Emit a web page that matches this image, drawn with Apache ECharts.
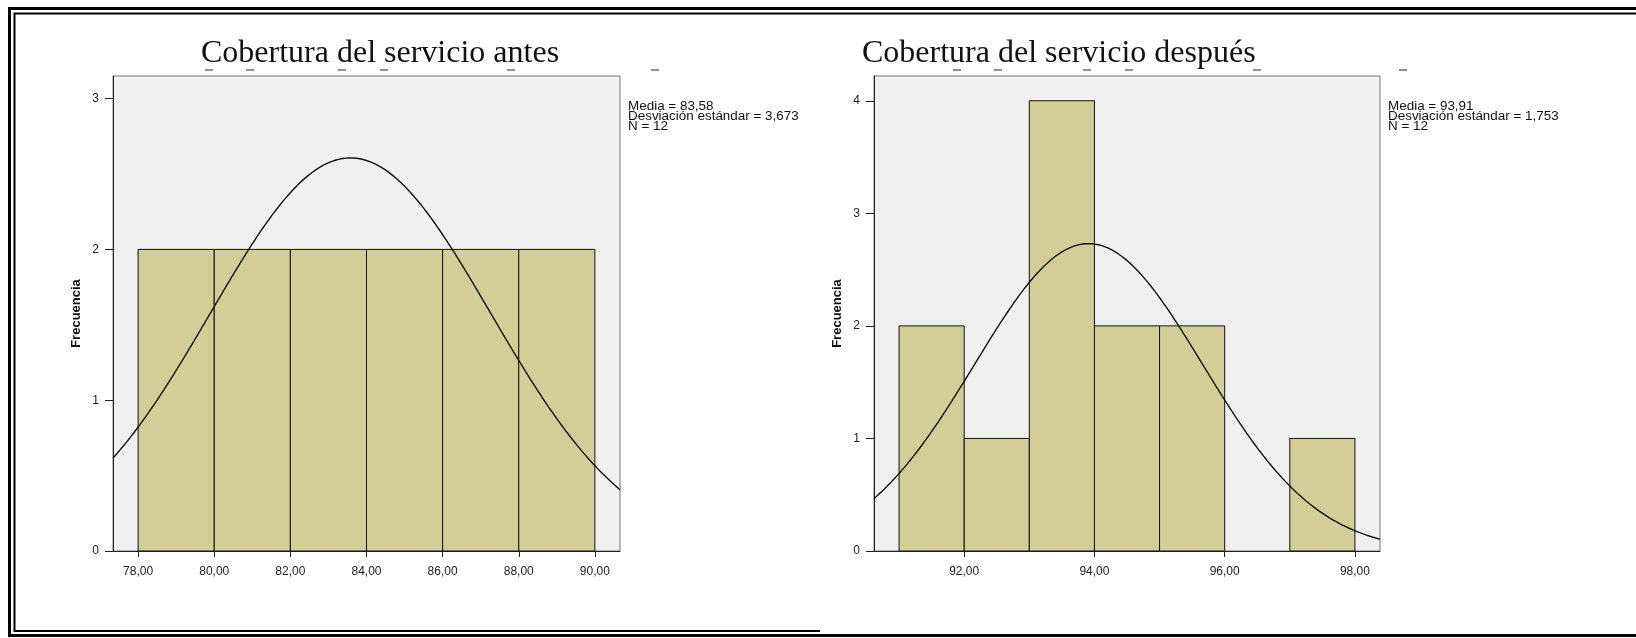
<!DOCTYPE html>
<html>
<head>
<meta charset="utf-8">
<script src="https://cdn.jsdelivr.net/npm/echarts@6/dist/echarts.min.js"></script>
<style>
  html, body { margin: 0; padding: 0; background: #ffffff; }
  #chart { width: 1636px; height: 638px; }
</style>
</head>
<body>
<div id="chart"></div>
<script>
// Histogram bins (edges) and frequencies, before and after
const antesEdges = [78, 80, 82, 84, 86, 88, 90];
const antesCounts = [2, 2, 2, 2, 2, 2];
const despuesEdges = [91, 92, 93, 94, 95, 96, 97, 98];
const despuesCounts = [2, 1, 4, 2, 2, 0, 1];

// Summary statistics shown beside each histogram
const antesStats = { media: 83.58, sd: 3.673, n: 12 };
const despuesStats = { media: 93.91, sd: 1.753, n: 12 };

// Tick labels
const antesXTicks = [78, 80, 82, 84, 86, 88, 90];
const antesYTicks = [0, 1, 2, 3];
const despuesXTicks = [92, 94, 96, 98];
const despuesYTicks = [0, 1, 2, 3, 4];

const titles = ['Cobertura del servicio antes', 'Cobertura del servicio después'];

const fmt = (v, d) => v.toFixed(d).replace('.', ',');

function binRows(edges, counts) {
  return counts.map((c, i) => [edges[i], edges[i + 1], c]);
}

// Normal curve scaled to the histogram: N * binWidth * pdf(x)
function normalCurve(stats, binWidth, xmin, xmax) {
  const pts = [];
  const step = (xmax - xmin) / 300;
  for (let i = 0; i <= 300; i++) {
    const x = xmin + i * step;
    const z = (x - stats.media) / stats.sd;
    const y = stats.n * binWidth * Math.exp(-0.5 * z * z) / (stats.sd * Math.sqrt(2 * Math.PI));
    pts.push([x, y]);
  }
  return pts;
}

const barFill = '#d3ce97';
const labelFont = { fontFamily: 'Liberation Sans, Arial, sans-serif', fontSize: 12, color: '#222' };

function histRender(params, api) {
  const c = api.value(2);
  if (!c) return null;
  const p0 = api.coord([api.value(0), c]);
  const p1 = api.coord([api.value(1), 0]);
  return {
    type: 'rect',
    shape: { x: p0[0], y: p0[1], width: p1[0] - p0[0], height: p1[1] - p0[1] },
    style: { fill: barFill, stroke: '#111', lineWidth: 1 }
  };
}

const ranges = [
  { xmin: 77.34, xmax: 90.66, ymax: 3.15 },
  { xmin: 90.615, xmax: 98.385, ymax: 4.22 }
];

function xAxisFor(idx, ticks) {
  return {
    type: 'value', gridIndex: idx, min: ranges[idx].xmin, max: ranges[idx].xmax,
    splitLine: { show: false },
    axisLine: { show: true, onZero: false, lineStyle: { color: '#222', width: 1 } },
    axisTick: { show: true, customValues: ticks, length: 6, lineStyle: { color: '#222' } },
    axisLabel: Object.assign({ customValues: ticks, margin: 15, formatter: v => fmt(v, 2) }, labelFont)
  };
}
function yAxisFor(idx, ticks) {
  return {
    type: 'value', gridIndex: idx, min: 0, max: ranges[idx].ymax,
    name: 'Frecuencia', nameLocation: 'middle', nameGap: 30, nameRotate: 90,
    nameTextStyle: { fontFamily: 'Liberation Sans, Arial, sans-serif', fontSize: 13, fontWeight: 'bold', color: '#111' },
    splitLine: { show: false },
    axisLine: { show: true, onZero: false, lineStyle: { color: '#222', width: 1 } },
    axisTick: { show: true, customValues: ticks, length: 8, lineStyle: { color: '#222' } },
    axisLabel: Object.assign({ customValues: ticks, margin: 14, formatter: v => String(v) }, labelFont)
  };
}

function statsText(s) {
  return 'Media = ' + fmt(s.media, 2) + '\nDesviación estándar = ' + fmt(s.sd, 3) + '\nN = ' + s.n;
}

function dash(x, y) {
  return { type: 'line', shape: { x1: x, y1: y, x2: x + 8, y2: y }, style: { stroke: '#222', lineWidth: 1 } };
}

// statistics block: slightly widened text, tight line spacing
function statsBlock(x, s) {
  return {
    type: 'text', x: x, y: 102, scaleX: 1.12,
    style: { text: statsText(s), font: '12px "Liberation Sans", Arial, sans-serif', lineHeight: 9.8, fill: '#111' }
  };
}

const chart = echarts.init(document.getElementById('chart'), null, { renderer: 'canvas' });

chart.setOption({
  animation: false,
  backgroundColor: '#ffffff',
  grid: [
    { left: 113, top: 76, width: 507, height: 475, show: true, backgroundColor: '#f0f0f0', borderColor: '#777', borderWidth: 1 },
    { left: 874, top: 76, width: 506, height: 475, show: true, backgroundColor: '#f0f0f0', borderColor: '#777', borderWidth: 1 }
  ],
  xAxis: [xAxisFor(0, antesXTicks), xAxisFor(1, despuesXTicks)],
  yAxis: [yAxisFor(0, antesYTicks), yAxisFor(1, despuesYTicks)],
  series: [
    {
      type: 'custom', xAxisIndex: 0, yAxisIndex: 0, renderItem: histRender,
      encode: { x: [0, 1], y: 2 }, data: binRows(antesEdges, antesCounts)
    },
    {
      type: 'custom', xAxisIndex: 1, yAxisIndex: 1, renderItem: histRender,
      encode: { x: [0, 1], y: 2 }, data: binRows(despuesEdges, despuesCounts)
    },
    {
      type: 'line', xAxisIndex: 0, yAxisIndex: 0, showSymbol: false, clip: true,
      lineStyle: { color: '#111', width: 1.4 },
      data: normalCurve(antesStats, antesEdges[1] - antesEdges[0], ranges[0].xmin, ranges[0].xmax)
    },
    {
      type: 'line', xAxisIndex: 1, yAxisIndex: 1, showSymbol: false, clip: true,
      lineStyle: { color: '#111', width: 1.4 },
      data: normalCurve(despuesStats, despuesEdges[1] - despuesEdges[0], ranges[1].xmin, ranges[1].xmax)
    }
  ],
  graphic: [
    // page frame
    { type: 'polyline', shape: { points: [[1640, 8.5], [9.5, 8.5], [9.5, 635.5], [1640, 635.5]] }, style: { stroke: '#000', lineWidth: 3, fill: null } },
    { type: 'polyline', shape: { points: [[1640, 13.5], [14.5, 13.5], [14.5, 631], [820, 631]] }, style: { stroke: '#000', lineWidth: 2, fill: null } },
    // titles
    { type: 'text', left: 201, top: 38, style: { text: titles[0], font: '32px "Liberation Serif", "Times New Roman", serif', fill: '#111' } },
    { type: 'text', left: 862, top: 38, style: { text: titles[1], font: '32px "Liberation Serif", "Times New Roman", serif', fill: '#111' } },
    // small marks under the titles
    dash(205, 70), dash(246, 70), dash(338, 70), dash(380, 70), dash(507, 70), dash(651, 70),
    dash(953, 70), dash(994, 70), dash(1083, 70), dash(1125, 70), dash(1253, 70), dash(1399, 70),
    // statistics
    statsBlock(628, antesStats),
    statsBlock(1388, despuesStats)
  ]
});
</script>
</body>
</html>
